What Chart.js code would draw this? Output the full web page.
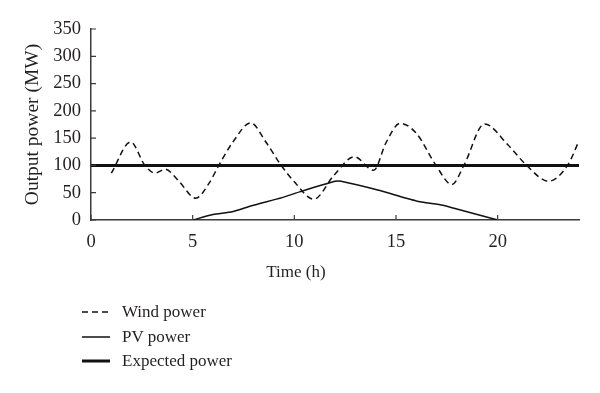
<!DOCTYPE html>
<html>
<head>
<meta charset="utf-8">
<script src="https://cdn.jsdelivr.net/npm/chart.js@4.4.1/dist/chart.umd.min.js"></script>
<style>
  html, body { margin: 0; padding: 0; background: #fff; }
  #wrap { position: relative; width: 600px; height: 393px; font-family: 'Liberation Serif', 'DejaVu Serif', serif; color: #231f20; }
  #chart { position: absolute; left: 0; top: 0; }
  #xTitle { position: absolute; left: 0; width: 592px; top: 261px; line-height: 22px; text-align: center; font-size: 17px; }
  #legend { position: absolute; left: 82px; top: 300px; font-size: 17px; }
  #legend .row { display: flex; align-items: center; height: 24.5px; }
  #legend svg { margin-right: 12px; }
</style>
</head>
<body>
<div id="wrap">
  <canvas id="chart" width="600" height="393"></canvas>
  <div id="xTitle">Time (h)</div>
  <div id="legend"></div>
</div>
<script>
// values
const windHours = [1, 1.95, 2.65, 3.15, 3.65, 4.3, 5.15, 5.8, 6.3, 7.0, 7.85, 8.6, 9.3, 10.0, 10.95, 11.95, 12.95, 13.9, 14.5, 15.2, 16.0, 16.95, 17.75, 18.35, 19.35, 20.5, 21.4, 22.5, 23.45, 24];
const windPower = [86, 143, 100, 86, 93, 72, 40, 67, 101, 144, 178, 143, 103, 70, 38, 82, 116, 91, 141, 177, 159, 101, 65, 101, 176, 138, 101, 71, 101, 145];
const pvHours = [5, 6, 6.95, 7.9, 9.4, 10.3, 12.0, 12.3, 14.1, 16.0, 17.3, 17.9, 20];
const pvPower = [0, 10, 15, 26, 41, 52, 71, 71, 55, 35, 27, 21, 0];
const expectedHours = [0, 24];
const expectedPower = [100, 100];
const xTicks = [0, 5, 10, 15, 20];
const yTicks = [0, 50, 100, 150, 200, 250, 300, 350];

const FONT = "'Liberation Serif', 'DejaVu Serif', serif";
const INK = '#231f20';
const AXIS = '#3a3a3a';

function pts(xs, ys) { return xs.map((x, i) => ({ x: x, y: ys[i] })); }

// short tick marks pointing into the plot, like the original figure
const innerTicks = {
  id: 'innerTicks',
  afterDraw(chart) {
    const ctx = chart.ctx, area = chart.chartArea;
    const xs = chart.scales.x, ys = chart.scales.y;
    ctx.save();
    ctx.strokeStyle = AXIS;
    ctx.lineWidth = 1.2;
    ctx.beginPath();
    xs.ticks.forEach((t, i) => {
      const px = xs.getPixelForTick(i);
      ctx.moveTo(px, area.bottom); ctx.lineTo(px, area.bottom - 5);
    });
    ys.ticks.forEach((t, i) => {
      const py = ys.getPixelForTick(i);
      ctx.moveTo(area.left, py); ctx.lineTo(area.left + 5, py);
    });
    ctx.stroke();
    ctx.restore();
  }
};

const chart = new Chart(document.getElementById('chart'), {
  type: 'line',
  data: {
    datasets: [
      {
        label: 'Wind power',
        data: pts(windHours, windPower),
        borderColor: '#111',
        borderWidth: 1.5,
        borderDash: [6, 4],
        cubicInterpolationMode: 'monotone',
        pointRadius: 0
      },
      {
        label: 'PV power',
        data: pts(pvHours, pvPower),
        borderColor: '#111',
        borderWidth: 1.5,
        tension: 0.2,
        pointRadius: 0
      },
      {
        label: 'Expected power',
        data: pts(expectedHours, expectedPower),
        borderColor: '#111',
        borderWidth: 3,
        pointRadius: 0
      }
    ]
  },
  options: {
    responsive: false,
    animation: false,
    layout: { padding: { left: 0, right: 21, top: 29, bottom: 143 } },
    plugins: { legend: { display: false }, tooltip: { enabled: false } },
    scales: {
      x: {
        type: 'linear',
        min: 0, max: 24,
        afterFit: s => { s.height = 30; },
        afterBuildTicks: s => { s.ticks = xTicks.map(v => ({ value: v })); },
        grid: { display: false, drawTicks: false },
        border: { display: true, color: AXIS, width: 1.5 },
        ticks: { color: INK, padding: 11, font: { family: FONT, size: 18.5 } }
      },
      y: {
        min: 0, max: 350,
        afterFit: s => { s.width = 91; },
        afterBuildTicks: s => { s.ticks = yTicks.map(v => ({ value: v })); },
        grid: { display: false, drawTicks: false },
        border: { display: true, color: AXIS, width: 1.5 },
        ticks: { color: INK, padding: 10, font: { family: FONT, size: 18.5 } },
        title: {
          display: true,
          text: 'Output power (MW)',
          color: INK,
          padding: { top: 21, bottom: 0 },
          font: { family: FONT, size: 19.5 }
        }
      }
    }
  },
  plugins: [innerTicks]
});

// legend stacked in one column under the plot
const legend = document.getElementById('legend');
chart.data.datasets.forEach(ds => {
  const row = document.createElement('div');
  row.className = 'row';
  const dash = ds.borderDash ? ds.borderDash.join(',') : 'none';
  row.innerHTML =
    '<svg width="28" height="6"><line x1="0" y1="3" x2="28" y2="3" stroke="#111" stroke-width="' +
    ds.borderWidth + '" stroke-dasharray="' + dash + '"/></svg><span>' + ds.label + '</span>';
  legend.appendChild(row);
});
</script>
</body>
</html>
